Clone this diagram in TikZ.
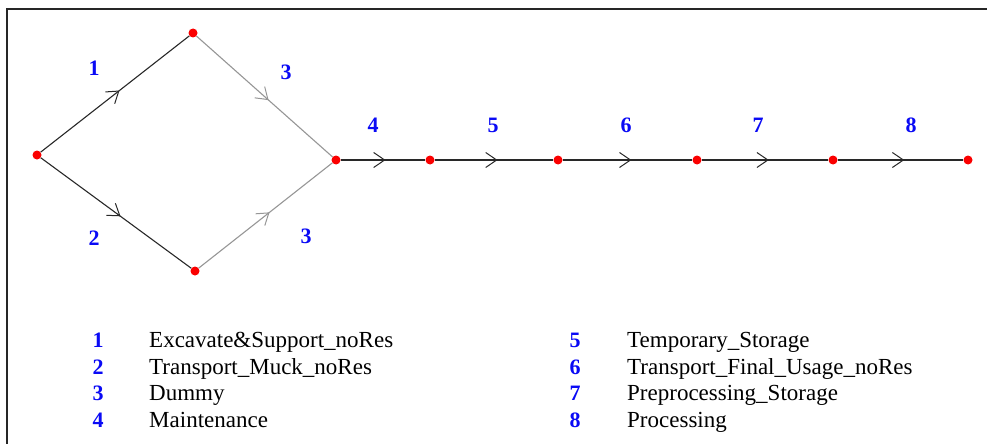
\documentclass[tikz,border=0pt]{standalone}
\usepackage{fontspec}
\setmainfont{Liberation Serif}
\usetikzlibrary{arrows.meta,decorations.markings}
\definecolor{lblblue}{RGB}{10,10,245}
\definecolor{dotred}{RGB}{250,0,0}
\definecolor{darkarc}{RGB}{40,40,40}
\definecolor{lightarc}{RGB}{150,150,150}
\begin{document}
\begin{tikzpicture}[x=1pt,y=-1pt,
  vtx/.style={circle,fill=dotred,inner sep=0pt,minimum size=9pt},
  arc/.style={line width=1.1pt,draw=#1,postaction={decorate},
    decoration={markings,mark=at position 0.53 with
      {\arrow[#1]{Straight Barb[length=11pt,width=15pt,line width=1pt]}}}},
  num/.style={text=lblblue,font=\fontsize{22}{26}\selectfont\bfseries,inner sep=0pt},
  legtxt/.style={anchor=base west,inner sep=0pt,font=\fontsize{23}{27}\selectfont},
  legnum/.style={num,anchor=base}
]
\useasboundingbox (0,0) rectangle (987,444);
% frame
\draw[line width=1.5pt,black!85] (7,444) -- (7,9) -- (987,9);

% vertices
\node[vtx] (v0) at (37,155) {};
\node[vtx] (v1) at (193,33) {};
\node[vtx] (v2) at (195,271) {};
\node[vtx] (v3) at (336,160) {};
\node[vtx] (v4) at (430,160) {};
\node[vtx] (v5) at (558,160) {};
\node[vtx] (v6) at (697,160) {};
\node[vtx] (v7) at (833,160) {};
\node[vtx] (v8) at (968,160) {};

% activities
\draw[arc=darkarc] (v0) -- (v1);
\draw[arc=darkarc] (v0) -- (v2);
\draw[arc=lightarc] (v1) -- (v3);
\draw[arc=lightarc] (v2) -- (v3);
\draw[arc=darkarc] (v3) -- (v4);
\draw[arc=darkarc] (v4) -- (v5);
\draw[arc=darkarc] (v5) -- (v6);
\draw[arc=darkarc] (v6) -- (v7);
\draw[arc=darkarc] (v7) -- (v8);

% activity labels
\node[num] (l1) at (94,68) {1};
\node[num] (l2) at (94,238) {2};
\node[num] (l3a) at (286,72) {3};
\node[num] (l3b) at (306,236) {3};
\node[num] (l4) at (373,125) {4};
\node[num] (l5) at (493,125) {5};
\node[num] (l6) at (626,125) {6};
\node[num] (l7) at (758,125) {7};
\node[num] (l8) at (911,125) {8};

% legend
\node[legnum] (k1) at (98,347) {1};
\node[legtxt] (t1) at (149,347) {Excavate\&Support\_noRes};
\node[legnum] (k2) at (98,374) {2};
\node[legtxt] (t2) at (149,374) {Transport\_Muck\_noRes};
\node[legnum] (k3) at (98,400) {3};
\node[legtxt] (t3) at (149,400) {Dummy};
\node[legnum] (k4) at (98,427) {4};
\node[legtxt] (t4) at (149,427) {Maintenance};

\node[legnum] (k5) at (575,347) {5};
\node[legtxt] (t5) at (627,347) {Temporary\_Storage};
\node[legnum] (k6) at (575,374) {6};
\node[legtxt] (t6) at (627,374) {Transport\_Final\_Usage\_noRes};
\node[legnum] (k7) at (575,400) {7};
\node[legtxt] (t7) at (627,400) {Preprocessing\_Storage};
\node[legnum] (k8) at (575,427) {8};
\node[legtxt] (t8) at (627,427) {Processing};
\end{tikzpicture}
\end{document}
